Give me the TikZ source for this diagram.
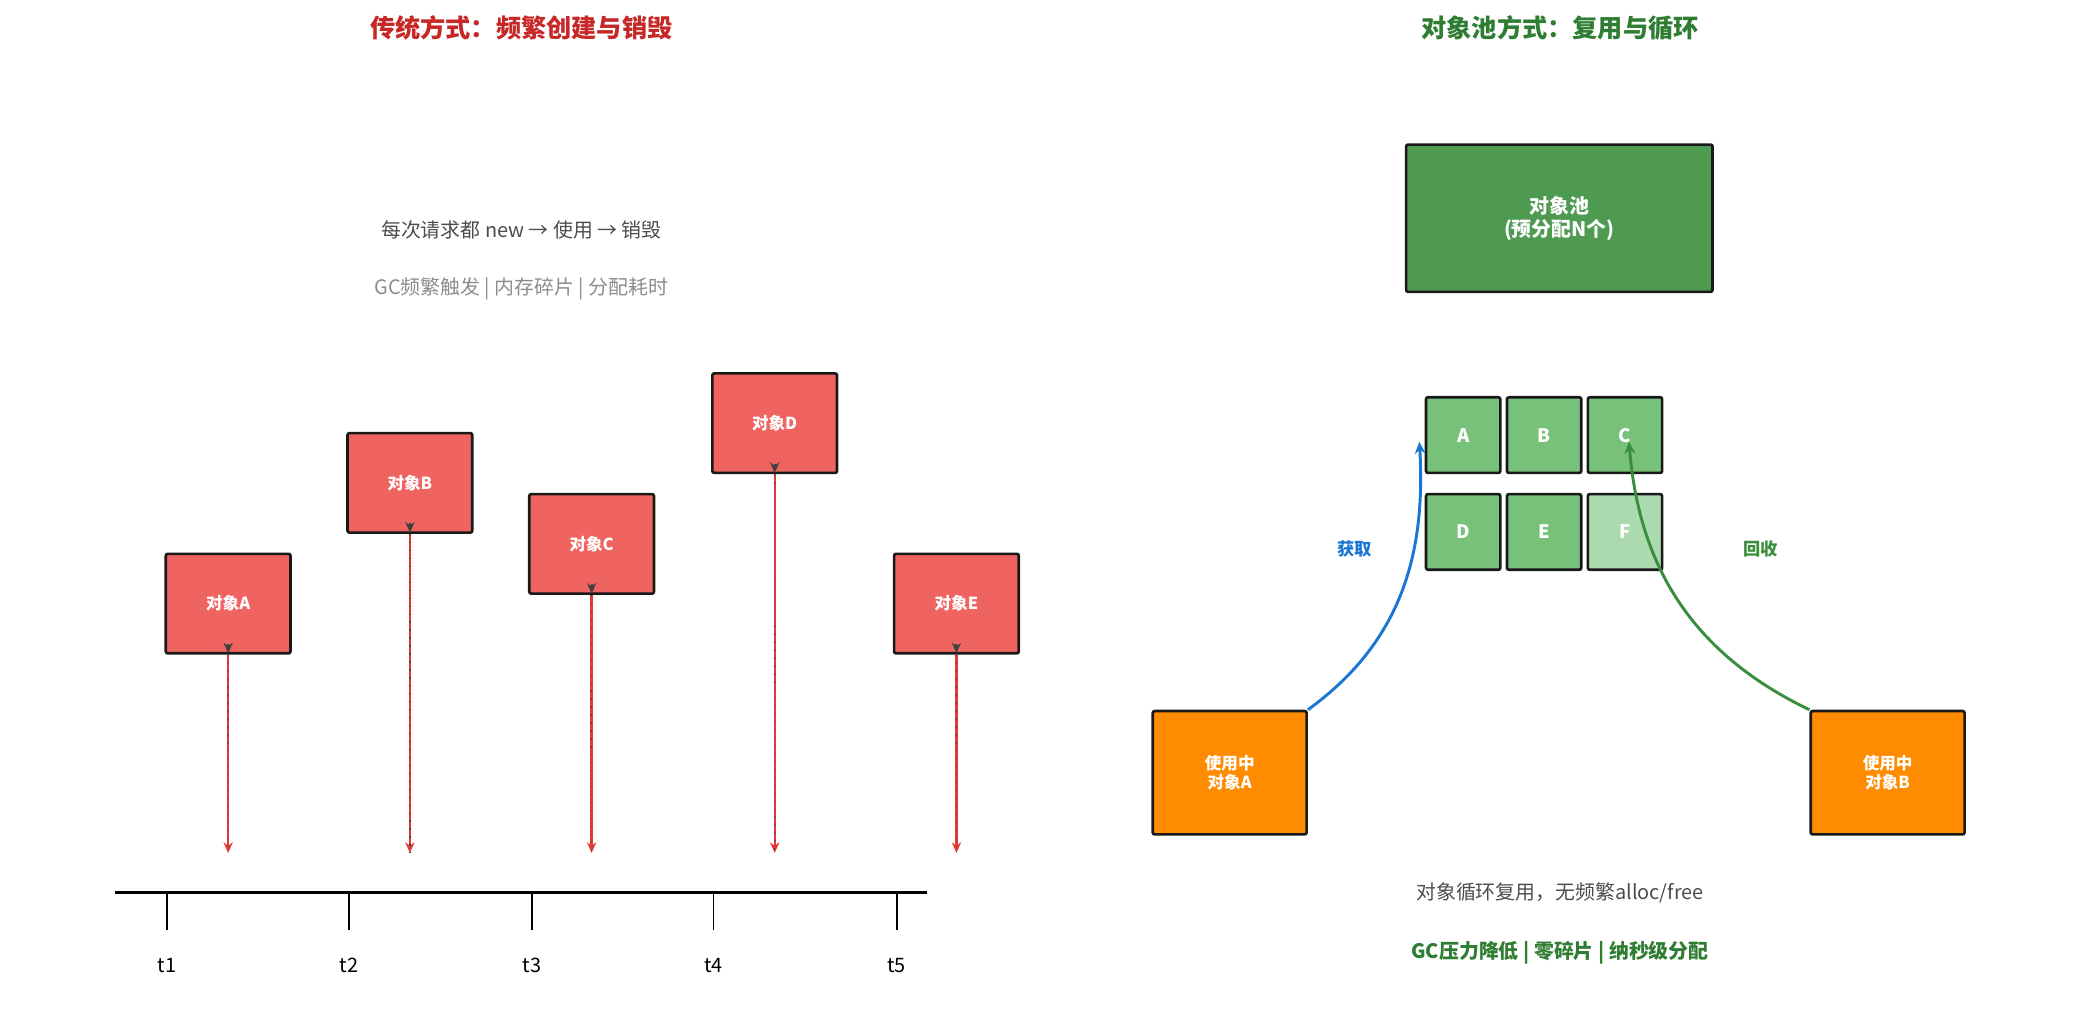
\documentclass[tikz,border=0pt]{standalone}
\usepackage{fontspec}
\setmainfont{Noto Sans CJK SC}
\usetikzlibrary{arrows.meta}
\definecolor{tred}{HTML}{C62828}
\definecolor{bred}{HTML}{EF6461}
\definecolor{ared}{HTML}{E53935}
\definecolor{tgreen}{HTML}{2E7D32}
\definecolor{pgreen}{HTML}{4E9A50}
\definecolor{sgreen}{HTML}{77C17A}
\definecolor{lgreen}{HTML}{ABDAAE}
\definecolor{orng}{HTML}{FF8C00}
\definecolor{blu}{HTML}{1976D2}
\definecolor{agreen}{HTML}{388E3C}
\begin{document}
\begin{tikzpicture}[x=1pt,y=-1pt,
 box/.style={draw=black!90,line width=2pt,rounded corners=1.5pt,inner sep=0pt,text=white,font=\fontsize{12.5}{14}\selectfont\bfseries,align=center},
 lbl/.style={font=\fontsize{15}{18}\selectfont},
 ttl/.style={font=\fontsize{19}{22}\selectfont\bfseries},
 vline/.style={ared,line width=1.8pt},
 dots/.style={black!75,line width=1pt,dash pattern=on 1pt off 5pt}]
\useasboundingbox (0,0) rectangle (1568,776);
% ---------- left ----------
\node[ttl,text=tred] (t1) at (393,21) {传统方式：频繁创建与销毁};
\node[lbl,text=black!70] (s1) at (393,173) {每次请求都 new → 使用 → 销毁};
\node[lbl,text=black!45] (s2) at (393,218) {GC频繁触发 | 内存碎片 | 分配耗时};
\foreach \n/\x/\y/\t in {A/172/455/对象A,B/309/364/对象B,C/446/410/对象C,D/584/319/对象D,E/721/455/对象E}{
 \node[box,fill=bred,minimum width=94pt,minimum height=75pt] (o\n) at (\x,\y) {\t};
 \coordinate (b\n) at (\x,643);
 \draw[vline,-{Stealth[length=8pt,width=7pt]}] (o\n.south) -- (b\n);
 \draw[dots] (o\n.south) -- (b\n);
 \draw[black!75,line width=1.5pt,-{Stealth[length=8pt,width=7pt,open]}] ([yshift=8pt]o\n.south) -- ([yshift=1pt]o\n.south);
}
\coordinate (ax1) at (87,673); \coordinate (ax2) at (699,673);
\draw[line width=2.2pt] (ax1) -- (ax2);
\foreach \x/\t in {126/t1,263/t2,401/t3,538/t4,676/t5}{
 \draw[line width=1.2pt] (\x,673) -- (\x,701);
 \node[lbl,font=\fontsize{15}{18}\selectfont] (l\t) at (\x,728) {\t};}
% ---------- right ----------
\node[ttl,text=tgreen] (t2) at (1176,21) {对象池方式：复用与循环};
\node[box,fill=pgreen,minimum width=231pt,minimum height=111pt,font=\fontsize{15}{17}\selectfont\bfseries] (pool) at (1175.5,164.5) {对象池\\(预分配N个)};
\foreach \n/\x/\y/\c in {A/1103/328/sgreen,B/1164/328/sgreen,C/1225/328/sgreen,D/1103/401/sgreen,E/1164/401/sgreen,F/1225/401/lgreen}{
 \node[box,fill=\c,minimum width=56pt,minimum height=57pt,font=\fontsize{14}{16}\selectfont\bfseries] (p\n) at (\x,\y) {\n};}
\node[box,fill=orng,minimum width=116pt,minimum height=93pt] (uA) at (927,582.5) {使用中\\对象A};
\node[box,fill=orng,minimum width=116pt,minimum height=93pt] (uB) at (1423,582.5) {使用中\\对象B};
\draw[blu,line width=2.2pt,-{Stealth[length=9pt,width=8pt]}] (uA.north east) .. controls (1055,485) and (1075,420) .. (1070,333);
\draw[agreen,line width=2.2pt,-{Stealth[length=9pt,width=8pt]}] (uB.north west) .. controls (1270,490) and (1235,420) .. (1228,333);
\node[text=blu,font=\fontsize{13}{15}\selectfont\bfseries] (get) at (1021,414) {获取};
\node[text=agreen,font=\fontsize{13}{15}\selectfont\bfseries] (ret) at (1327,414) {回收};
\node[lbl,text=black!70] (s3) at (1176,673) {对象循环复用，无频繁alloc/free};
\node[lbl,text=tgreen,font=\fontsize{15}{18}\selectfont\bfseries] (s4) at (1176,718) {GC压力降低 | 零碎片 | 纳秒级分配};
\end{tikzpicture}
\end{document}
